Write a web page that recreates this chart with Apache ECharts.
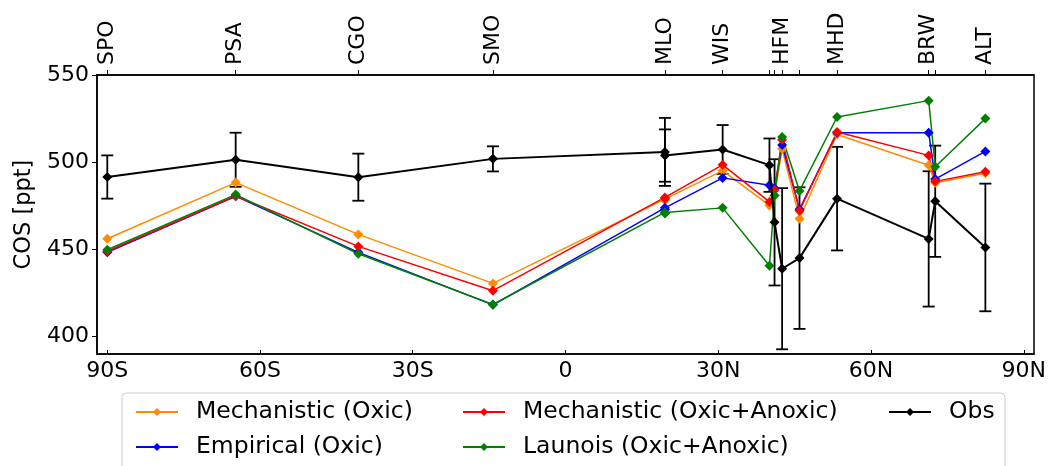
<!DOCTYPE html>
<html>
<head>
<meta charset="utf-8">
<script src="https://cdn.jsdelivr.net/npm/echarts@6/dist/echarts.min.js"></script>
<style>
  html, body { margin: 0; padding: 0; background: #fff; }
  #chart { width: 1050px; height: 466px; }
</style>
</head>
<body>
<div id="chart"></div>
<script>
// stations, sorted by latitude
const stations = ['SPO', 'PSA', 'CGO', 'SMO', 'KUM', 'MLO', 'WIS', 'NWR', 'THD', 'HFM', 'LEF', 'MHD', 'BRW', 'SUM', 'ALT'];
const lats = [-89.98, -64.77, -40.68, -14.25, 19.52, 19.54, 30.86, 40.05, 41.05, 42.54, 45.95, 53.33, 71.32, 72.6, 82.45];
const labelledStations = ['SPO', 'PSA', 'CGO', 'SMO', 'MLO', 'WIS', 'HFM', 'MHD', 'BRW', 'ALT'];

// COS [ppt]
const obs = [491.5, 501.4, 491.4, 501.9, 505.9, 503.8, 507.3, 498.3, 465.5, 438.9, 445.0, 479.1, 456.0, 477.6, 451.1];
const obsErr = [12.4, 15.5, 13.5, 7.2, 19.5, 15.0, 14.0, 15.3, 36.2, 46.2, 40.6, 29.7, 38.8, 31.9, 36.6];
const mechOxic = [456.1, 488.3, 458.6, 430.5, 478.8, 478.2, 495.2, 475.2, 481.0, 507.7, 467.6, 515.9, 498.2, 488.2, 493.7];
const empOxic = [448.3, 480.5, 448.3, 418.2, 473.8, 472.8, 491.0, 486.8, 485.0, 509.8, 473.0, 516.9, 516.9, 490.3, 506.2];
const mechAnoxic = [448.9, 480.6, 451.7, 426.3, 479.8, 479.0, 498.5, 477.2, 484.0, 512.8, 472.2, 517.3, 503.9, 489.0, 494.5];
const launois = [449.8, 481.4, 447.5, 418.4, 471.2, 470.6, 473.8, 440.6, 480.9, 514.5, 483.5, 525.9, 535.3, 497.4, 525.0];

const latTicks = [-90, -60, -30, 0, 30, 60, 90];
const cosTicks = [400, 450, 500, 550];

const FONT = 'DejaVu Sans';
const FS = 22;

const pairs = vals => lats.map((l, i) => [l, vals[i]]);
const fmtLat = v => v < 0 ? (-v) + 'S' : (v > 0 ? v + 'N' : '0');

function lineSeries(name, vals, color, width, size) {
    return {
        name,
        type: 'line',
        data: pairs(vals),
        symbol: 'diamond',
        symbolSize: size,
        showSymbol: true,
        lineStyle: { color, width },
        itemStyle: { color },
        animation: false
    };
}

const errData = lats.map((l, i) => [l, obs[i] - obsErr[i], obs[i] + obsErr[i]]);

const chart = echarts.init(document.getElementById('chart'), null, { renderer: 'canvas' });

const tickLabelStyle = { color: '#000', fontFamily: FONT, fontSize: FS };

// legend: 3 columns, filled column by column
const legendSlots = [
    { name: 'Mechanistic (Oxic)', left: 135, top: 400 },
    { name: 'Empirical (Oxic)', left: 135, top: 435 },
    { name: 'Mechanistic (Oxic+Anoxic)', left: 462, top: 400 },
    { name: 'Launois (Oxic+Anoxic)', left: 462, top: 435 },
    { name: 'Obs', left: 888, top: 400 }
];

chart.setOption({
    backgroundColor: '#fff',
    animation: false,
    textStyle: { fontFamily: FONT },
    grid: {
        left: 97, right: 16, top: 75, bottom: 112,
        show: true, borderColor: '#000', borderWidth: 1.5
    },
    xAxis: [{
        type: 'value',
        min: -92, max: 92,
        axisLine: { show: true, onZero: false, lineStyle: { color: '#000', width: 1.5 } },
        axisTick: { show: true, inside: true, length: 4, customValues: latTicks, lineStyle: { color: '#000', width: 1 } },
        axisLabel: { ...tickLabelStyle, customValues: latTicks, margin: 6, formatter: fmtLat },
        splitLine: { show: false }
    }, {
        type: 'value',
        position: 'top',
        min: -92, max: 92,
        axisLine: { show: true, onZero: false, lineStyle: { color: '#000', width: 1.5 } },
        axisTick: { show: true, length: 5, customValues: lats, lineStyle: { color: '#000', width: 1 } },
        axisLabel: {
            ...tickLabelStyle,
            rotate: -90,
            margin: 10,
            customValues: labelledStations.map(s => lats[stations.indexOf(s)]),
            formatter: v => stations[lats.indexOf(v)]
        },
        splitLine: { show: false }
    }],
    yAxis: {
        type: 'value',
        min: 390, max: 550,
        name: 'COS [ppt]',
        nameLocation: 'middle',
        nameGap: 61,
        nameTextStyle: { color: '#000', fontFamily: FONT, fontSize: 22.5 },
        axisLine: { show: true, onZero: false, lineStyle: { color: '#000', width: 1.5 } },
        axisTick: { show: true, length: 5, customValues: cosTicks, lineStyle: { color: '#000', width: 1 } },
        axisLabel: { ...tickLabelStyle, customValues: cosTicks, margin: 8 },
        splitLine: { show: false }
    },
    graphic: [{
        type: 'rect',
        z: 3,
        shape: { x: 122, y: 393, width: 883, height: 100, r: 4 },
        style: { fill: '#fff', stroke: '#cccccc', lineWidth: 1 }
    }],
    legend: legendSlots.map(s => ({
        data: [s.name],
        left: s.left,
        top: s.top,
        padding: 0,
        itemWidth: 42,
        itemHeight: 10,
        selectedMode: false,
        textStyle: { color: '#000', fontFamily: FONT, fontSize: 23.5, lineHeight: 24, padding: [0, 0, 0, 13] }
    })),
    series: [
        lineSeries('Mechanistic (Oxic)', mechOxic, '#ff8c00', 1.5, 10),
        lineSeries('Empirical (Oxic)', empOxic, '#0000ff', 1.5, 10),
        lineSeries('Mechanistic (Oxic+Anoxic)', mechAnoxic, '#ff0000', 1.5, 10),
        lineSeries('Launois (Oxic+Anoxic)', launois, '#008000', 1.5, 10),
        {
            name: 'Obs err',
            type: 'custom',
            data: errData,
            encode: { x: 0, y: [1, 2] },
            z: 3,
            renderItem(params, api) {
                const x = api.value(0);
                const top = api.coord([x, api.value(2)]);
                const bot = api.coord([x, api.value(1)]);
                const cw = 6;
                const st = { stroke: '#000', lineWidth: 1.8 };
                return {
                    type: 'group',
                    children: [
                        { type: 'line', shape: { x1: top[0], y1: top[1], x2: bot[0], y2: bot[1] }, style: st },
                        { type: 'line', shape: { x1: top[0] - cw, y1: top[1], x2: top[0] + cw, y2: top[1] }, style: st },
                        { type: 'line', shape: { x1: bot[0] - cw, y1: bot[1], x2: bot[0] + cw, y2: bot[1] }, style: st }
                    ]
                };
            }
        },
        { ...lineSeries('Obs', obs, '#000', 2, 10), z: 4 }
    ]
});
</script>
</body>
</html>
